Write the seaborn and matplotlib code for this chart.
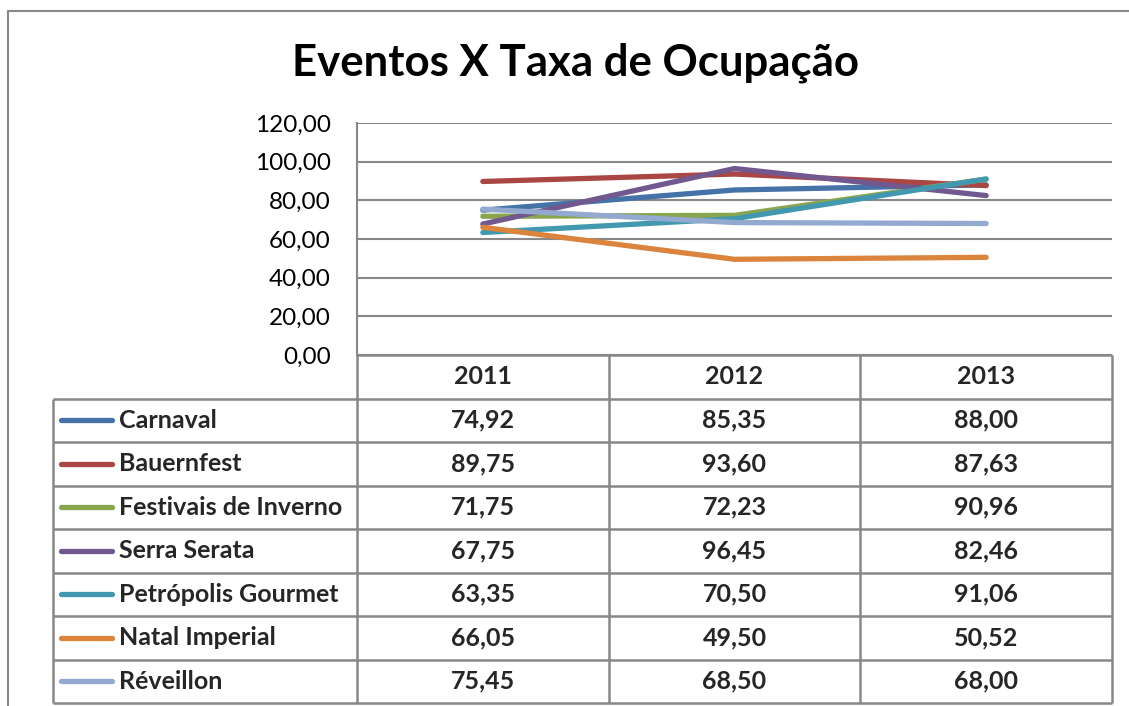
import matplotlib
matplotlib.use("Agg")
import matplotlib.pyplot as plt
from matplotlib.lines import Line2D
from matplotlib.ticker import FuncFormatter
import seaborn as sns
import pandas as pd

years = ["2011", "2012", "2013"]
events = ["Carnaval", "Bauernfest", "Festivais de Inverno", "Serra Serata",
          "Petrópolis Gourmet", "Natal Imperial", "Réveillon"]
carnaval = [74.92, 85.35, 88.00]
bauernfest = [89.75, 93.60, 87.63]
festivais = [71.75, 72.23, 90.96]
serra_serata = [67.75, 96.45, 82.46]
petropolis = [63.35, 70.50, 91.06]
natal = [66.05, 49.50, 50.52]
reveillon = [75.45, 68.50, 68.00]
series = [carnaval, bauernfest, festivais, serra_serata, petropolis, natal, reveillon]
colors = ["#4572A7", "#AA4643", "#89A54E", "#71588F", "#4198AF", "#DB843D", "#93A9CF"]

sns.set_theme(style="white")
plt.rcParams["font.family"] = ["Lato", "DejaVu Sans"]

W, H = 1129, 706
GRAY = "#888888"
FS = 18
fig = plt.figure(figsize=(W / 100, H / 100), dpi=100)


def box(x0, y0, x1, y1):
    return [x0 / W, 1 - y1 / H, (x1 - x0) / W, (y1 - y0) / H]


df = pd.DataFrame({
    "Ano": years * len(events),
    "Evento": [e for e in events for _ in years],
    "Taxa": [v for s in series for v in s],
})

ax = fig.add_axes(box(357, 123, 1112, 355))
sns.lineplot(data=df, x="Ano", y="Taxa", hue="Evento", hue_order=events,
             palette=dict(zip(events, colors)), lw=3.8, legend=False, ax=ax,
             solid_capstyle="round")
ax.set_xlim(-0.5, 2.5)
ax.set_ylim(0, 120)
ax.set_yticks(range(0, 121, 20))
ax.yaxis.set_major_formatter(FuncFormatter(lambda v, p: f"{v:.2f}".replace(".", ",")))
ax.set_xticks([])
ax.set_xlabel("")
ax.set_ylabel("")
ax.grid(axis="y", color=GRAY, lw=1.5)
for side in ["top", "right", "bottom"]:
    ax.spines[side].set_visible(False)
ax.spines["left"].set_color(GRAY)
ax.spines["left"].set_linewidth(1.5)
ax.tick_params(axis="y", length=0, pad=19, labelsize=17.5, labelcolor="black")

# data table below the plot
tab = fig.add_axes(box(53, 355, 1112, 703))
x_left = -0.5 - (357 - 53) / (755 / 3)
tab.set_xlim(x_left, 2.5)
tab.set_ylim(8, 0)
tab.axis("off")
kw = dict(color=GRAY, lw=1.8, clip_on=False)
tab.hlines(0, -0.5, 2.5, **kw)
for r in range(1, 9):
    tab.hlines(r, x_left, 2.5, **kw)
tab.vlines(x_left, 1, 8, **kw)
for xv in [-0.5, 0.5, 1.5, 2.5]:
    tab.vlines(xv, 0, 8, **kw)

for i, y in enumerate(years):
    tab.text(i, 0.5, y, ha="center", va="center", fontsize=FS, fontweight="bold")
for r, (name, vals, c) in enumerate(zip(events, series, colors)):
    yy = r + 1.5
    tab.plot([x_left + 0.03, x_left + 0.235], [yy, yy], color=c, lw=3.8,
             solid_capstyle="round", clip_on=False)
    tab.text(x_left + 0.262, yy, name, ha="left", va="center", fontsize=FS,
             fontweight="bold")
    for i, v in enumerate(vals):
        tab.text(i, yy, f"{v:.2f}".replace(".", ","), ha="center", va="center",
                 fontsize=FS, fontweight="bold")

fig.text(575 / W, 1 - 63 / H, "Eventos X Taxa de Ocupação", ha="center", va="center",
         fontsize=31.5, fontweight="bold", color="black")

# outer chart border (only top and left are inside the picture)
fig.add_artist(Line2D([8 / W, 1], [1 - 11 / H, 1 - 11 / H], color=GRAY, lw=1.5))
fig.add_artist(Line2D([8 / W, 8 / W], [1 - 11 / H, 0], color=GRAY, lw=1.5))

fig.savefig("out.png", dpi=100)
